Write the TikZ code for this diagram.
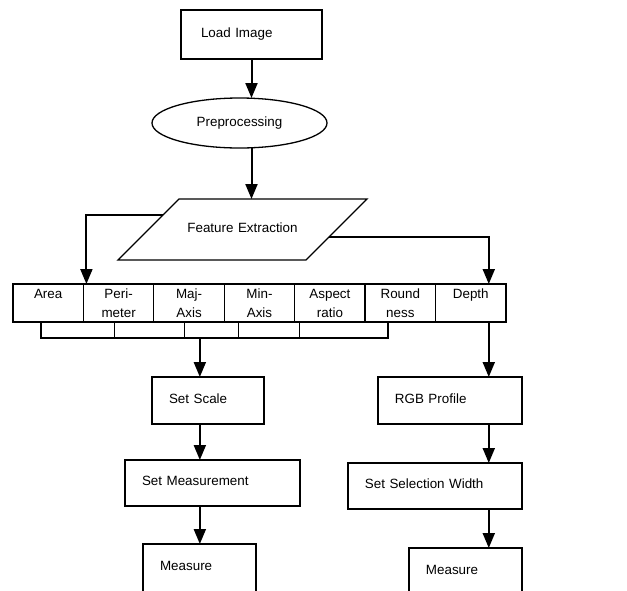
\documentclass[tikz,border=0pt]{standalone}
\usepackage{fontspec}
\setmainfont{Liberation Sans}
\usetikzlibrary{positioning, shapes.geometric, arrows.meta, calc}

\tikzset{
  block/.style={draw, line width=1.3pt, rectangle, align=left, inner xsep=17pt, inner ysep=0pt,
    text height=10pt, text depth=5pt, outer sep=0pt},
  cell/.style={draw, line width=1.3pt, rectangle, align=center, inner sep=0pt, outer sep=0pt,
    minimum width=70.43pt, minimum height=38pt},
  flow/.style={-{Triangle[length=15pt,width=12pt]}, line width=2pt},
  bus/.style={line width=1.3pt},
}

\begin{document}
\begin{tikzpicture}[x=1pt, y=1pt, font=\fontsize{13.4}{19}\selectfont]
    \useasboundingbox (0,0) rectangle (627,-590);
    \clip (0,0) rectangle (627,-590);

    % top of the flow
    \node[block, inner xsep=20pt, text width=101pt, minimum height=49pt] (load) at (251.5,-34.5) {Load Image};
    \node[draw, ellipse, line width=1.3pt, inner sep=0pt, outer sep=0pt, minimum width=175pt, minimum height=50pt,
      below=39pt of load, xshift=-12pt] (prep) {Preprocessing};
    \node[draw, trapezium, line width=1.3pt, trapezium left angle=45, trapezium right angle=135,
      align=center, text width=127pt, text height=10pt, text depth=5pt, inner xsep=0pt, inner ysep=23pt, outer sep=0pt,
      below=51pt of prep, xshift=3pt] (feat) {Feature Extraction};

    % feature row
    \node[cell] (area) at (48.2,-303) {Area\\\mbox{}};
    \node[cell, right=0pt of area] (peri) {Peri-\\meter};
    \node[cell, right=0pt of peri] (maj) {Maj-\\Axis};
    \node[cell, right=0pt of maj] (min) {Min-\\Axis};
    \node[cell, right=0pt of min] (asp) {Aspect\\ratio};
    \node[cell, right=0pt of asp] (rnd) {Round\\ness};
    \node[cell, right=0pt of rnd] (depth) {Depth\\\mbox{}};

    % left branch
    \node[block, text width=78pt, minimum height=47pt, below=55pt of maj, xshift=19pt] (scale) {Set Scale};
    \node[block, text width=141pt, minimum height=46pt, below=36pt of scale, xshift=4.5pt] (setmeas) {Set Measurement};
    \node[block, text width=79pt, minimum height=48pt, below=38pt of setmeas, xshift=-13pt] (measL) {Measure};

    % right branch
    \node[block, text width=110pt, minimum height=47pt, below=55pt of depth, xshift=-20.8pt] (rgb) {RGB Profile};
    \node[block, text width=140pt, minimum height=46pt, below=39pt of rgb, xshift=-15pt] (selw) {Set Selection Width};
    \node[block, text width=79pt, minimum height=48pt, below=39pt of selw, xshift=30.5pt] (measR) {Measure};

    \coordinate (bus) at ($(maj.south west)+(46,-16)$);
    \coordinate (dcol) at ([xshift=18pt]depth.south);

    \draw[flow] (load.south) -- (load.south |- prep.north);
    \draw[flow] (prep.south -| load.south) -- (feat.north -| load.south);
    \draw[flow] (feat.170.5) -| ([xshift=3pt]area.north east);
    \draw[flow] (feat.-5) -| ([xshift=18pt]depth.north);

    % bracket under the row
    \draw[bus] (area.south west) ++(28,0) -- ++(0,-16) -| ([xshift=23pt]rnd.south west);
    \foreach \col/\dx in {peri/31, maj/31, min/14, asp/5}
      \draw[bus] (\col.south west) ++(\dx,0) -- ++(0,-16);

    \draw[flow] (bus) -- (bus |- scale.north);
    \draw[flow] (scale.south -| bus) -- (setmeas.north -| bus);
    \draw[flow] (setmeas.south -| bus) -- (measL.north -| bus);

    \draw[flow] (dcol) -- (dcol |- rgb.north);
    \draw[flow] (rgb.south -| dcol) -- (selw.north -| dcol);
    \draw[flow] (selw.south -| dcol) -- (measR.north -| dcol);
\end{tikzpicture}
\end{document}
